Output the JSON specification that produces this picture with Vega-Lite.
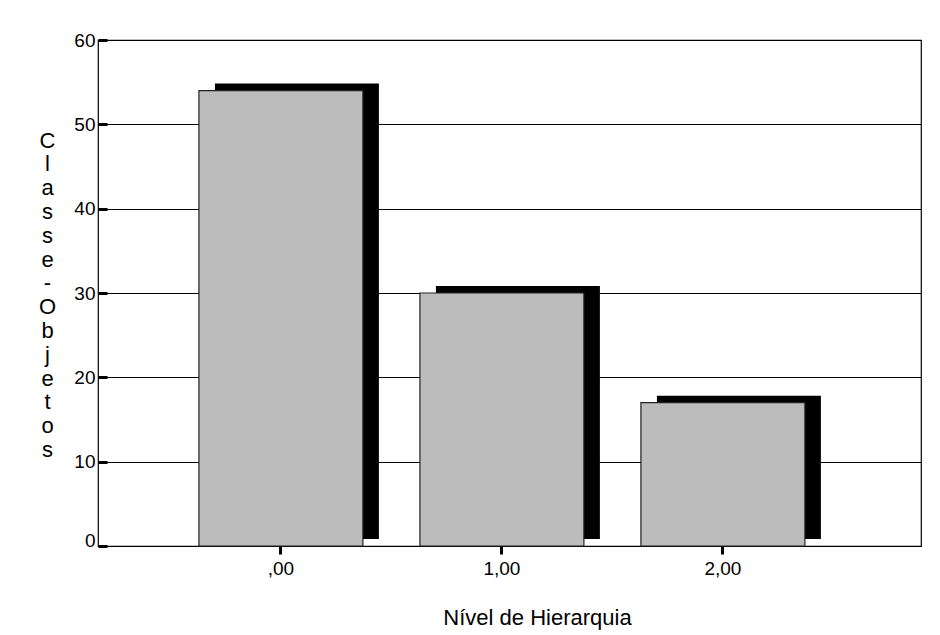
{
  "$schema": "https://vega.github.io/schema/vega-lite/v6.json",
  "width": 823,
  "height": 506,
  "autosize": {"type": "none"},
  "padding": {"left": 98, "top": 40, "right": 19, "bottom": 89},
  "background": "white",
  "config": {
    "font": "Liberation Sans",
    "view": {"stroke": "black", "strokeWidth": 1.2},
    "axis": {
      "labelFont": "Liberation Sans",
      "titleFont": "Liberation Sans",
      "labelColor": "black",
      "titleColor": "black",
      "titleFontWeight": "normal",
      "domain": false
    }
  },
  "data": {
    "values": [
      {"nivel": ",00", "count": 54},
      {"nivel": "1,00", "count": 30},
      {"nivel": "2,00", "count": 17}
    ]
  },
  "encoding": {
    "x": {
      "field": "nivel",
      "type": "nominal",
      "sort": [",00", "1,00", "2,00"],
      "scale": {"paddingInner": 0.258, "paddingOuter": 0.491, "align": 0.465},
      "axis": {
        "title": "Nível de Hierarquia",
        "titleFontSize": 22,
        "titleX": 439,
        "titleY": 71,
        "titleBaseline": "middle",
        "titleAlign": "center",
        "labelAngle": 0,
        "labelFontSize": 19,
        "labelPadding": 5,
        "tickSize": 8,
        "tickWidth": 3,
        "tickColor": "black",
        "grid": false
      }
    },
    "y": {
      "field": "count",
      "type": "quantitative",
      "scale": {"domain": [0, 60], "nice": false},
      "axis": {
        "title": ["C", "l", "a", "s", "s", "e", "-", "O", "b", "j", "e", "t", "o", "s"],
        "titleAngle": 0,
        "titleFontSize": 22,
        "titleLineHeight": 23.8,
        "titleX": -51,
        "titleY": 100,
        "titleAlign": "center",
        "titleBaseline": "middle",
        "values": [0, 10, 20, 30, 40, 50, 60],
        "labelFontSize": 19,
        "labelPadding": 12,
        "labelBaseline": {"condition": {"test": "datum.value === 0", "value": "alphabetic"}, "value": "middle"},
        "tickSize": -9,
        "tickWidth": 3,
        "tickColor": "black",
        "grid": true,
        "gridColor": "black",
        "gridWidth": 1,
        "gridOpacity": 1
      }
    }
  },
  "layer": [
    {
      "mark": {"type": "bar", "color": "black", "xOffset": 16, "yOffset": -7}
    },
    {
      "mark": {"type": "bar", "color": "#bcbcbc", "stroke": "#222222", "strokeWidth": 1.2}
    }
  ]
}
